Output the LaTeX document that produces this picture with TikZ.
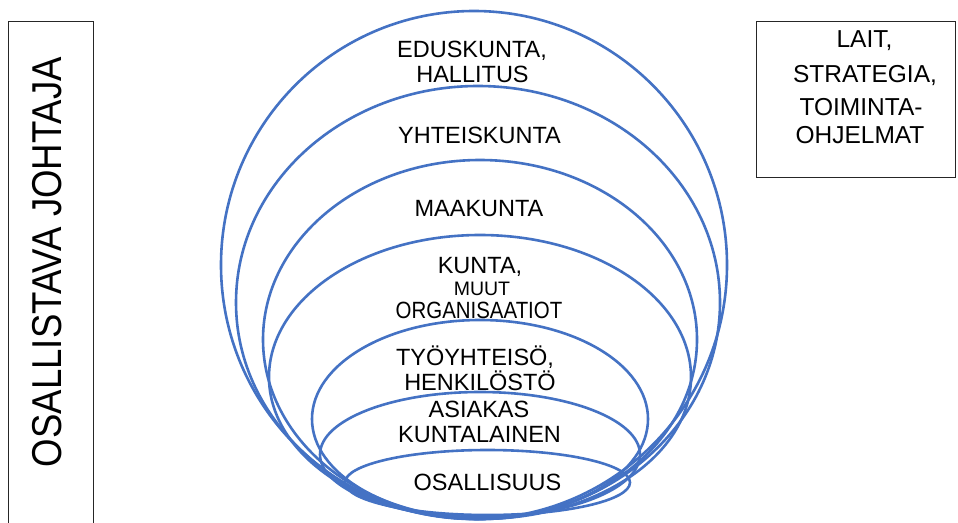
\documentclass[tikz,border=0pt]{standalone}
\usepackage{fontspec}
\setmainfont{Liberation Sans}
\usetikzlibrary{shapes.geometric}
\definecolor{ringblue}{HTML}{4472C4}
\begin{document}
\begin{tikzpicture}[x=1pt,y=-1pt,
  ring/.style={draw=ringblue, line width=2.6pt, ellipse, inner sep=0pt, outer sep=0pt},
  ringtext/.style={font=\fontsize{23.5}{26}\selectfont, inner sep=0pt, anchor=base, text=black},
  boxtext/.style={font=\fontsize{24.5}{30}\selectfont, inner sep=0pt, anchor=base, text=black},
  boxline/.style={draw=black!85, line width=1pt, rectangle, inner sep=0pt, anchor=north west}]
\useasboundingbox (0,0) rectangle (958,522);
\clip (0,0) rectangle (958,522);
\fill[white] (0,0) rectangle (958,522);

% nested circles of participation, outermost first; all meet near the bottom
\node[ring, minimum width=506, minimum height=508] (r1) at (474,265) {};
\node[ring, minimum width=484, minimum height=433] (r2) at (478,302.5) {};
\node[ring, minimum width=434, minimum height=359] (r3) at (480,339.5) {};
\node[ring, minimum width=422, minimum height=284] (r4) at (480,377) {};
\node[ring, minimum width=336, minimum height=198] (r5) at (480,419) {};
\node[ring, minimum width=320, minimum height=125] (r6) at (480,454.5) {};
\node[ring, minimum width=285, minimum height=65]  (r7) at (487.5,482.5) {};

% ring labels
\node[ringtext] (t1a) at (472,57) {EDUSKUNTA,};
\node[ringtext] (t1b) at (472.5,82) {HALLITUS};
\node[ringtext] (t2) at (479.5,143) {YHTEISKUNTA};
\node[ringtext] (t3) at (479,216) {MAAKUNTA};
\node[ringtext] (t4a) at (480,273) {KUNTA,};
\node[ringtext, font=\fontsize{19.5}{22}\selectfont] (t4b) at (482,295) {MUUT};
\node[ringtext] (t4c) at (479,318) {\scalebox{0.87}[1]{ORGANISAATIOT}};
\node[ringtext] (t5a) at (475,365) {TYÖYHTEISÖ,};
\node[ringtext] (t5b) at (480,390) {HENKILÖSTÖ};
\node[ringtext] (t6a) at (479,417) {ASIAKAS};
\node[ringtext] (t6b) at (479.5,442) {KUNTALAINEN};
\node[ringtext] (t7) at (487.5,490) {OSALLISUUS};

% left frame with the vertical title
\node[boxline, minimum width=85, minimum height=560] (leader) at (8,21) {};
\node[rotate=90, inner sep=0pt, font=\fontsize{36.6}{40}\selectfont] (leadertext) at (47,262)
  {\scalebox{1}[1.14]{OSALLISTAVA JOHTAJA}};

% right frame: laws and programmes
\node[boxline, minimum width=199, minimum height=156] (laws) at (756,21) {};
\node[boxtext] (l1) at (864.5,47) {LAIT,};
\node[boxtext] (l2) at (865,82) {STRATEGIA,};
\node[boxtext] (l3) at (861,115) {TOIMINTA-};
\node[boxtext] (l4) at (860,143) {OHJELMAT};
\end{tikzpicture}
\end{document}
